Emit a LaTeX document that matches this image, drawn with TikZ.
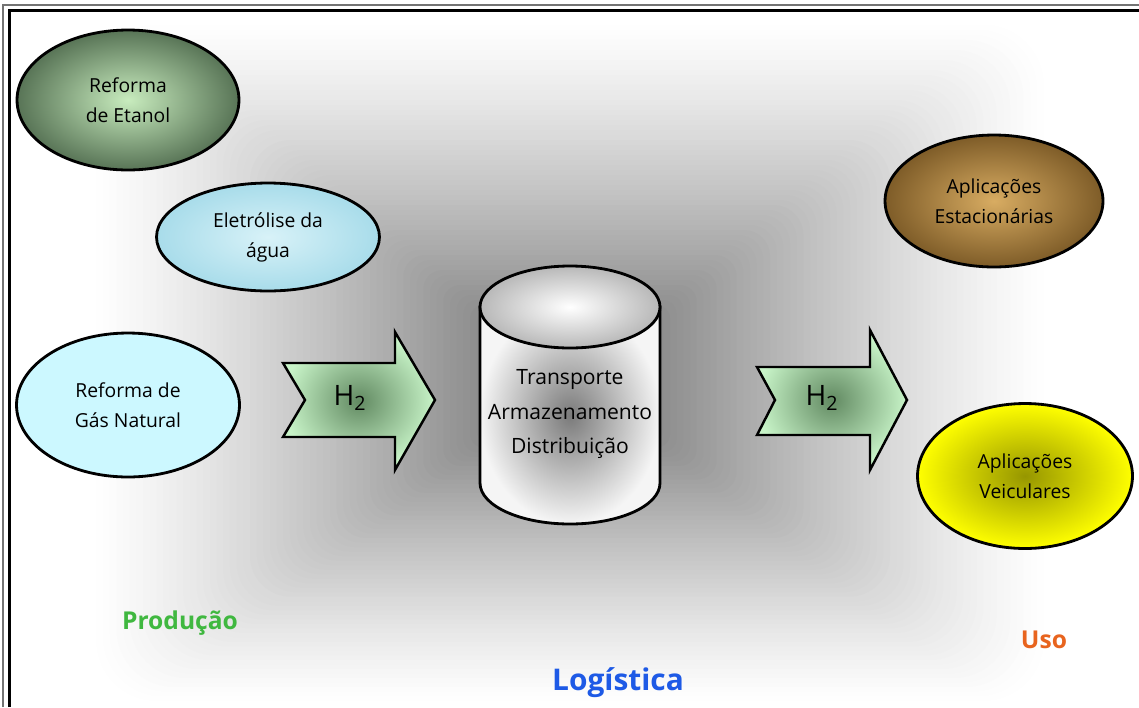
\documentclass[tikz,border=0pt]{standalone}
\usepackage{fontspec}
\setmainfont{Open Sans}
\usetikzlibrary{shapes.geometric}
\usetikzlibrary{positioning}

\definecolor{etanolin}{RGB}{200,236,190}
\definecolor{etanolout}{RGB}{88,116,86}
\definecolor{aguain}{RGB}{216,242,248}
\definecolor{aguaout}{RGB}{168,220,234}
\definecolor{gasfill}{RGB}{204,248,255}
\definecolor{estacin}{RGB}{216,172,98}
\definecolor{estacout}{RGB}{126,92,40}
\definecolor{veicin}{RGB}{150,150,0}
\definecolor{veicout}{RGB}{255,255,0}
\definecolor{setain}{RGB}{98,138,98}
\definecolor{setaout}{RGB}{200,244,200}
\definecolor{verdeprod}{RGB}{64,184,64}
\definecolor{laranjauso}{RGB}{232,100,30}
\definecolor{azullog}{RGB}{30,90,230}

\begin{document}
\begin{tikzpicture}[x=0.02cm,y=-0.02cm,
  oval/.style={ellipse,draw=black,line width=1.6pt,align=center,inner sep=0pt,
    font=\fontsize{11}{17}\selectfont},
  seta/.style={draw=black,line width=1.4pt,line join=miter,inner color=setain,outer color=setaout},
  hdois/.style={font=\fontsize{16}{18}\selectfont},
  rotulo/.style={font=\fontsize{14}{16}\selectfont\bfseries}]
\useasboundingbox (0,0) rectangle (1139,707);
\fill[white] (0,0) rectangle (1139,707);

% fundo
\foreach \i in {0,...,72}{
  \pgfmathsetmacro\t{\i/72}
  \pgfmathsetmacro\p{58*(\t^1.2)}
  \pgfmathsetmacro\r{(1-\t)*1.2+0.02}
  \fill[black!\p,rounded corners=\r cm] ({90+\t*480},{20+\t*360}) rectangle ({1050-\t*480},{705-\t*325});
}

% moldura
\draw[black!55,line width=0.8pt] (3,707) -- (3,5) -- (1139,5);
\draw[black,line width=1.6pt] (9.5,707) -- (9.5,10.5) -- (1139,10.5);

% producao
\node[oval,minimum width=4.44cm,minimum height=2.8cm,inner color=etanolin,outer color=etanolout] (etanol) at (128,100) {Reforma\\de Etanol};
\node[oval,minimum width=4.46cm,minimum height=2.16cm,inner color=aguain,outer color=aguaout] (eletrolise) at (268,237) {Eletrólise da\\água};
\node[oval,minimum width=4.46cm,minimum height=2.88cm,fill=gasfill] (gasnat) at (128,405) {Reforma de\\Gás Natural};

\shade[seta] (283,363) -- (395,363) -- (395,332) -- (435,400) -- (395,470) -- (395,437) -- (283,437) -- (305,400) -- cycle;
\node[hdois] (h2prod) at (350,398) {H\textsubscript{2}};

% logistica
\shade[draw=black,line width=1.6pt,inner color=black!52,outer color=black!4] (480,307) -- (480,483) arc[start angle=180,end angle=0,x radius=90,y radius=41] -- (660,307) -- cycle;
\shade[draw=black,line width=1.6pt,inner color=white,outer color=black!28] (570,307) ellipse[x radius=90,y radius=41];
\node[align=center,font=\fontsize{12}{19.6}\selectfont] (tanque) at (570,414) {Transporte\\Armazenamento\\Distribuição};

\shade[seta] (757,367) -- (870,367) -- (870,330) -- (907,400) -- (870,470) -- (870,435) -- (757,435) -- (775,400) -- cycle;
\node[hdois] (h2uso) at (822,398) {H\textsubscript{2}};

% uso
\node[oval,minimum width=4.36cm,minimum height=2.64cm,inner color=estacin,outer color=estacout] (estac) at (994,201) {Aplicações\\Estacionárias};
\node[oval,minimum width=4.3cm,minimum height=2.9cm,inner color=veicin,outer color=veicout] (veic) at (1025,476) {Aplicações\\Veiculares};

\node[rotulo,text=verdeprod] (producao) at (180,623) {Produção};
\node[rotulo,text=laranjauso] (uso) at (1044,640) {Uso};
\node[rotulo,text=azullog,font=\fontsize{17}{20}\selectfont\bfseries] (logistica) at (618,683) {Logística};

\end{tikzpicture}
\end{document}
